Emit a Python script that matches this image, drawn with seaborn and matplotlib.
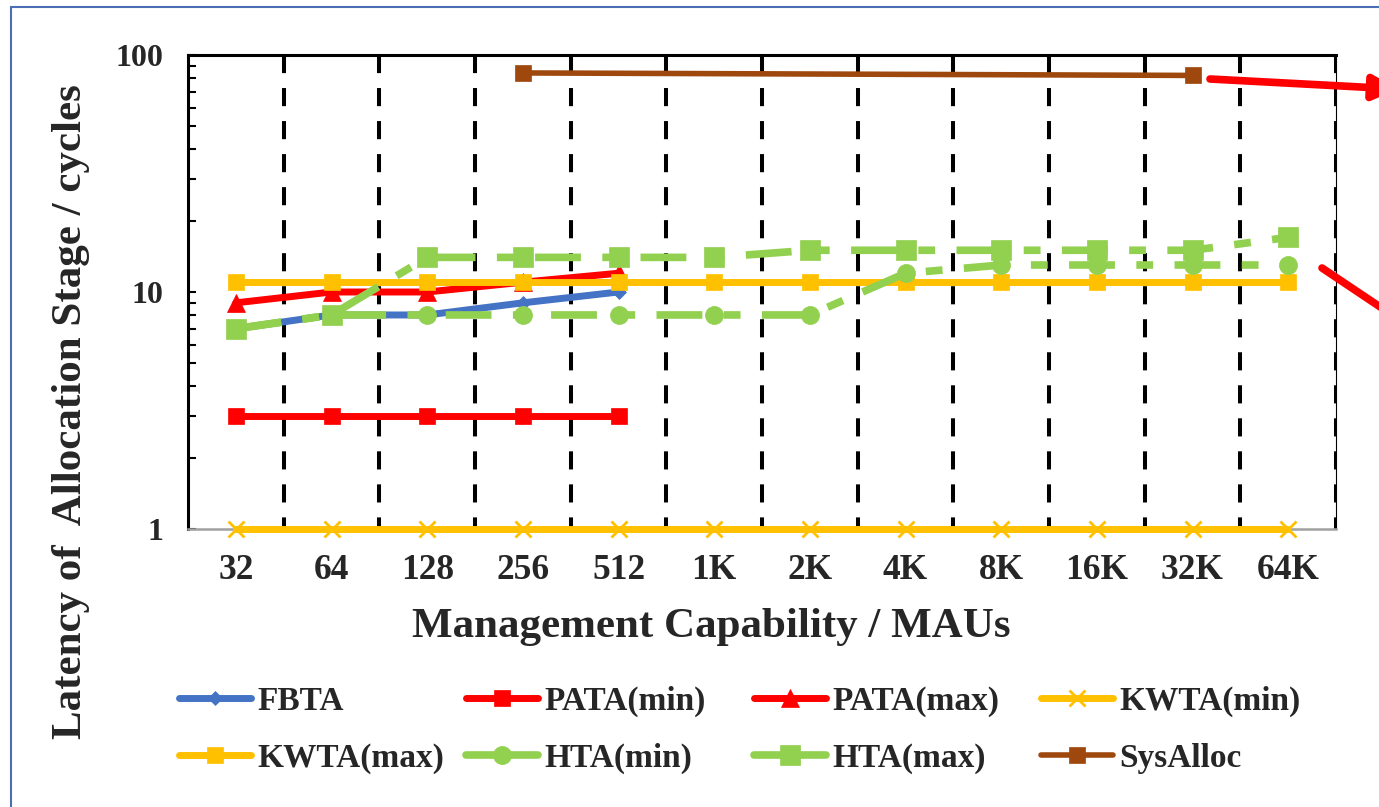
import numpy as np
import pandas as pd
import matplotlib
matplotlib.use("Agg")
import matplotlib.pyplot as plt
from matplotlib.lines import Line2D
from matplotlib.patches import Rectangle, FancyArrowPatch, ArrowStyle
from matplotlib.ticker import FixedLocator, NullFormatter, LogLocator
import seaborn as sns

nan = np.nan

# ---- data -------------------------------------------------------------
categories = ["32", "64", "128", "256", "512", "1K", "2K", "4K", "8K", "16K", "32K", "64K"]
fbta     = [7, 8, 8, 9, 10, nan, nan, nan, nan, nan, nan, nan]
pata_min = [3, 3, 3, 3, 3, nan, nan, nan, nan, nan, nan, nan]
pata_max = [9, 10, 10, 11, 12, nan, nan, nan, nan, nan, nan, nan]
kwta_min = [1, 1, 1, 1, 1, 1, 1, 1, 1, 1, 1, 1]
kwta_max = [11, 11, 11, 11, 11, 11, 11, 11, 11, 11, 11, 11]
hta_min  = [7, 8, 8, 8, 8, 8, 8, 12, 13, 13, 13, 13]
hta_max  = [7, 8, 14, 14, 14, 14, 15, 15, 15, 15, 15, 17]
sysalloc = [nan, nan, nan, 84, nan, nan, nan, nan, nan, nan, 82, nan]

series_names = ["FBTA", "PATA(min)", "PATA(max)", "KWTA(min)",
                "KWTA(max)", "HTA(min)", "HTA(max)", "SysAlloc"]
series_values = [fbta, pata_min, pata_max, kwta_min, kwta_max, hta_min, hta_max, sysalloc]

y_ticks = [1, 10, 100]
y_tick_labels = ["1", "10", "100"]

# ---- styling ----------------------------------------------------------
BLUE, RED, GOLD, GREEN, BROWN = "#4472C4", "#FF0000", "#FFC000", "#92D050", "#9E480E"
DASHDOT = (0, (6.0, 2.8, 2.2, 2.8))
styles = {
    "FBTA":      dict(color=BLUE,  marker="D", ms=7,  lw=5.0, ls="-"),
    "PATA(min)": dict(color=RED,   marker="s", ms=11.5, lw=5.0, ls="-"),
    "PATA(max)": dict(color=RED,   marker="^", ms=13, lw=5.0, ls="-"),
    "KWTA(min)": dict(color=GOLD,  marker="x", ms=12, lw=5.0, ls="-"),
    "KWTA(max)": dict(color=GOLD,  marker="s", ms=11.5, lw=5.0, ls="-"),
    "HTA(min)":  dict(color=GREEN, marker="o", ms=13, lw=5.5, ls=DASHDOT),
    "HTA(max)":  dict(color=GREEN, marker="s", ms=14.5, lw=5.5, ls=DASHDOT),
    "SysAlloc":  dict(color=BROWN, marker="s", ms=11.5, lw=4.0, ls="-"),
}

sns.set_theme(style="white")
plt.rcParams["font.family"] = ["Liberation Serif", "DejaVu Serif"]
plt.rcParams["font.weight"] = "bold"

W, H = 1379, 807
fig = plt.figure(figsize=(W / 100, H / 100), dpi=100)
ax = fig.add_axes([188 / W, 1 - 529 / H, (1336 - 188) / W, (529 - 55) / H])
ax.set_yscale("log")

# dashed separators between categories, drawn from the top down
ax.vlines(np.arange(0.5, len(categories), 1.0), ymin=100, ymax=1,
          colors="black", linewidth=2.9, linestyles=[(0, (4.5, 3.7))], zorder=1)

positions = np.arange(len(categories))
handles = []
for z, (name, values) in enumerate(zip(series_names, series_values)):
    st = styles[name]
    df = pd.DataFrame({"pos": positions, "value": values}).dropna()
    mew = 2.0 if st["marker"] == "x" else 0.5
    sns.lineplot(data=df, x="pos", y="value", ax=ax, errorbar=None, legend=False,
                 color=st["color"], linewidth=st["lw"], linestyle=st["ls"],
                 marker=st["marker"], markersize=st["ms"],
                 markeredgecolor=st["color"], markeredgewidth=mew,
                 solid_capstyle="round", clip_on=False, zorder=3 + z)
    handles.append(Line2D([], [], color=st["color"], linewidth=st["lw"],
                          marker=st["marker"], markersize=st["ms"],
                          markeredgecolor=st["color"], markeredgewidth=mew,
                          solid_capstyle="round"))

# ---- axes -------------------------------------------------------------
ax.set_xlim(-0.5, len(categories) - 0.5)
ax.set_ylim(1, 100)
ax.set_xlabel("")
ax.set_ylabel("")
ax.set_xticks(positions)
ax.set_xticklabels(categories)
ax.tick_params(axis="x", length=0, pad=18, labelsize=25.5)

ax.yaxis.set_major_locator(FixedLocator(y_ticks))
ax.set_yticklabels(y_tick_labels)
ax.yaxis.set_minor_locator(LogLocator(base=10, subs=range(2, 10)))
ax.yaxis.set_minor_formatter(NullFormatter())
ax.tick_params(axis="y", which="both", direction="in", left=True, length=6,
               width=1.5, color="black", pad=18, labelsize=23)

for side in ("left", "top"):
    ax.spines[side].set_color("black")
    ax.spines[side].set_linewidth(2.2)
ax.spines["bottom"].set_color("#a0a0a0")
ax.spines["bottom"].set_linewidth(1.8)
ax.spines["right"].set_color("black")
ax.spines["right"].set_linewidth(0.8)

fig.text(711.5 / W, 1 - 637 / H, "Management Capability / MAUs",
         ha="center", va="baseline", fontsize=31, fontweight="bold")
fig.text(81 / W, 1 - 411.5 / H, "Latency of  Allocation Stage / cycles",
         rotation=90, rotation_mode="anchor", ha="center", va="baseline",
         fontsize=31, fontweight="bold")

# ---- legend: four columns of two entries -------------------------------
col_x = [179, 466, 754, 1041]
for c, x in enumerate(col_x):
    idx = [c, c + 4]
    fig.legend([handles[i] for i in idx], [series_names[i] for i in idx],
               loc="center left", bbox_to_anchor=(x / W, 1 - 730 / H),
               frameon=False, borderpad=0, borderaxespad=0,
               handlelength=2.16, handletextpad=0.2, labelspacing=0.78,
               numpoints=1, prop=dict(size=24, weight="bold"))

# ---- call-out arrows and outer frame ----------------------------------
head = ArrowStyle("-|>", head_length=0.8, head_width=0.4)
for (xa, ya), (xb, yb) in [((1210, 79), (1398, 89)), ((1322, 268), (1440, 347))]:
    fig.add_artist(FancyArrowPatch((xa / W, 1 - ya / H), (xb / W, 1 - yb / H),
                                   transform=fig.transFigure, arrowstyle=head,
                                   mutation_scale=18, color=RED, linewidth=5.5,
                                   shrinkA=0, shrinkB=0))

fig.add_artist(Rectangle((10.5 / W, -0.1), 1.2, 1.1 - 7 / H, transform=fig.transFigure,
                         fill=False, edgecolor="#4A6FB5", linewidth=1.5))

fig.savefig("out.png", dpi=100)
